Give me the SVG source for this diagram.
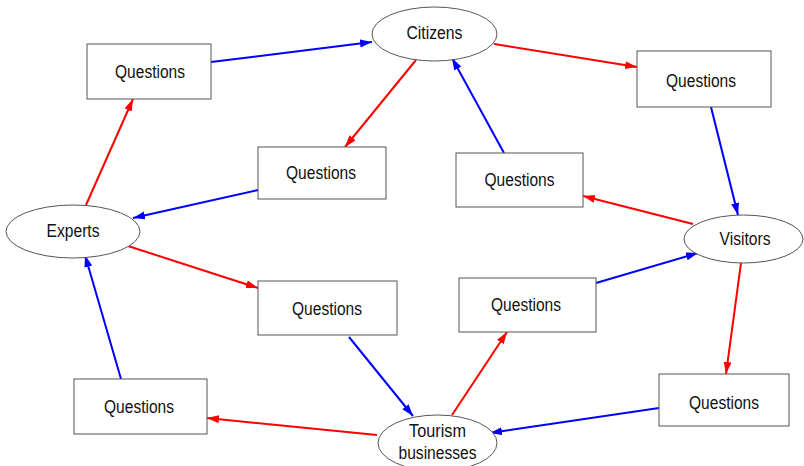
<svg xmlns="http://www.w3.org/2000/svg" width="804" height="466" viewBox="0 0 804 466">
  <defs>
    <style>
      .node { fill: #ffffff; stroke: #555555; stroke-width: 1; }
      .label { font-family: "Liberation Sans", Arial, sans-serif; font-size: 18px; fill: #111111; text-anchor: middle; dominant-baseline: central; }
      .red { stroke: #ff0000; stroke-width: 2; fill: none; }
      .blue { stroke: #0000ff; stroke-width: 2; fill: none; }
    </style>
    <marker id="arrowRed" markerUnits="userSpaceOnUse" markerWidth="13" markerHeight="9" refX="12" refY="4" orient="auto">
      <path d="M0,0 L12,4 L0,8 z" fill="#ff0000"/>
    </marker>
    <marker id="arrowBlue" markerUnits="userSpaceOnUse" markerWidth="13" markerHeight="9" refX="12" refY="4" orient="auto">
      <path d="M0,0 L12,4 L0,8 z" fill="#0000ff"/>
    </marker>
  </defs>
  <rect width="804" height="466" fill="#ffffff"/>

  <!-- connectors -->
  <g id="connectors">
    <line class="blue" x1="211" y1="62" x2="372" y2="42" marker-end="url(#arrowBlue)"/>
    <line class="red" x1="494" y1="44" x2="637" y2="67" marker-end="url(#arrowRed)"/>
    <line class="red" x1="416" y1="60" x2="345" y2="147" marker-end="url(#arrowRed)"/>
    <line class="blue" x1="504" y1="153" x2="452" y2="58" marker-end="url(#arrowBlue)"/>
    <line class="blue" x1="711" y1="107" x2="738" y2="215" marker-end="url(#arrowBlue)"/>
    <line class="red" x1="693" y1="224" x2="583" y2="196" marker-end="url(#arrowRed)"/>
    <line class="blue" x1="596" y1="283" x2="698" y2="253" marker-end="url(#arrowBlue)"/>
    <line class="red" x1="741" y1="263" x2="726" y2="374" marker-end="url(#arrowRed)"/>
    <line class="blue" x1="659" y1="408" x2="490" y2="433" marker-end="url(#arrowBlue)"/>
    <line class="red" x1="377" y1="435" x2="207" y2="418" marker-end="url(#arrowRed)"/>
    <line class="red" x1="452" y1="415" x2="507" y2="332" marker-end="url(#arrowRed)"/>
    <line class="blue" x1="349" y1="337" x2="413" y2="416" marker-end="url(#arrowBlue)"/>
    <line class="blue" x1="121" y1="379" x2="85" y2="255" marker-end="url(#arrowBlue)"/>
    <line class="red" x1="86" y1="205" x2="133" y2="99" marker-end="url(#arrowRed)"/>
    <line class="blue" x1="258" y1="190" x2="133" y2="218" marker-end="url(#arrowBlue)"/>
    <line class="red" x1="128" y1="246" x2="258" y2="288" marker-end="url(#arrowRed)"/>
  </g>

  <!-- ellipse nodes -->
  <g id="citizens">
    <ellipse class="node" cx="434.5" cy="34" rx="62.5" ry="27"/>
    <text class="label" x="434.5" y="33" textLength="56" lengthAdjust="spacingAndGlyphs">Citizens</text>
  </g>
  <g id="experts">
    <ellipse class="node" cx="73" cy="231.5" rx="67" ry="26.5"/>
    <text class="label" x="73" y="231" textLength="53" lengthAdjust="spacingAndGlyphs">Experts</text>
  </g>
  <g id="visitors">
    <ellipse class="node" cx="743.5" cy="239" rx="59.5" ry="24"/>
    <text class="label" x="745" y="239" textLength="51" lengthAdjust="spacingAndGlyphs">Visitors</text>
  </g>
  <g id="tourism">
    <ellipse class="node" cx="437.5" cy="443" rx="59.5" ry="28"/>
    <text class="label" x="437.5" y="431" textLength="57" lengthAdjust="spacingAndGlyphs">Tourism</text>
    <text class="label" x="437.5" y="453" textLength="78" lengthAdjust="spacingAndGlyphs">businesses</text>
  </g>

  <!-- question boxes -->
  <g id="q-experts-citizens">
    <rect class="node" x="87" y="44" width="124" height="55"/>
    <text class="label" x="150" y="72" textLength="70" lengthAdjust="spacingAndGlyphs">Questions</text>
  </g>
  <g id="q-citizens-visitors">
    <rect class="node" x="637" y="51" width="134" height="56"/>
    <text class="label" x="701" y="81" textLength="70" lengthAdjust="spacingAndGlyphs">Questions</text>
  </g>
  <g id="q-citizens-experts">
    <rect class="node" x="258" y="147" width="128" height="52"/>
    <text class="label" x="321" y="173" textLength="70" lengthAdjust="spacingAndGlyphs">Questions</text>
  </g>
  <g id="q-visitors-citizens">
    <rect class="node" x="456" y="153" width="127" height="54"/>
    <text class="label" x="519.5" y="180" textLength="70" lengthAdjust="spacingAndGlyphs">Questions</text>
  </g>
  <g id="q-experts-tourism">
    <rect class="node" x="258" y="281" width="139" height="54"/>
    <text class="label" x="327" y="309" textLength="70" lengthAdjust="spacingAndGlyphs">Questions</text>
  </g>
  <g id="q-tourism-visitors">
    <rect class="node" x="459" y="278" width="137" height="54"/>
    <text class="label" x="526" y="305" textLength="70" lengthAdjust="spacingAndGlyphs">Questions</text>
  </g>
  <g id="q-tourism-experts">
    <rect class="node" x="74" y="379" width="133" height="55"/>
    <text class="label" x="139" y="407" textLength="70" lengthAdjust="spacingAndGlyphs">Questions</text>
  </g>
  <g id="q-visitors-tourism">
    <rect class="node" x="659" y="374" width="130" height="52"/>
    <text class="label" x="724" y="403" textLength="70" lengthAdjust="spacingAndGlyphs">Questions</text>
  </g>
</svg>
